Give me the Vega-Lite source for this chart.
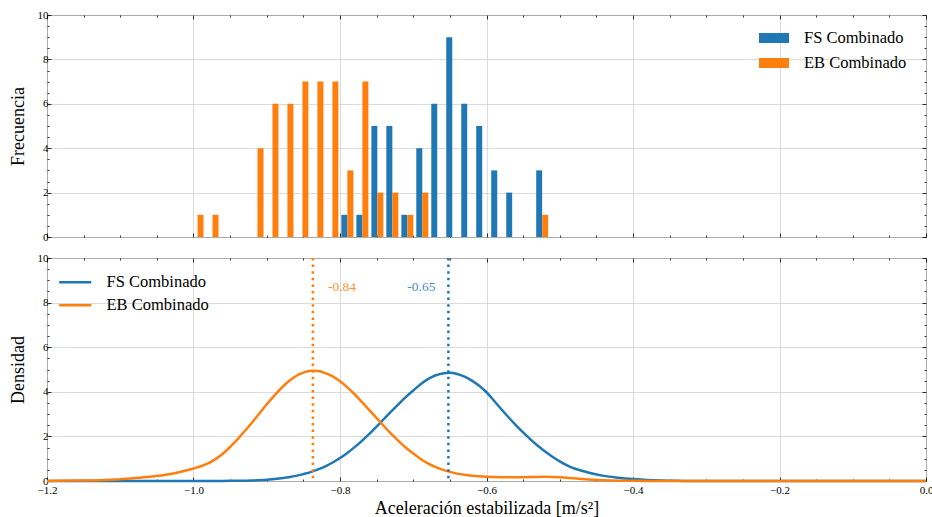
{
  "$schema": "https://vega.github.io/schema/vega-lite/v6.json",
  "padding": {"left": 8, "top": 8, "right": 0, "bottom": 0},
  "datasets": {
    "hist": [
      {"serie": "FS Combinado", "inicio": -0.8002, "fin": -0.7797, "conteo": 1},
      {"serie": "FS Combinado", "inicio": -0.7797, "fin": -0.7592, "conteo": 1},
      {"serie": "FS Combinado", "inicio": -0.7592, "fin": -0.7388, "conteo": 5},
      {"serie": "FS Combinado", "inicio": -0.7388, "fin": -0.7183, "conteo": 5},
      {"serie": "FS Combinado", "inicio": -0.7183, "fin": -0.6979, "conteo": 1},
      {"serie": "FS Combinado", "inicio": -0.6979, "fin": -0.6774, "conteo": 4},
      {"serie": "FS Combinado", "inicio": -0.6774, "fin": -0.6570, "conteo": 6},
      {"serie": "FS Combinado", "inicio": -0.6570, "fin": -0.6365, "conteo": 9},
      {"serie": "FS Combinado", "inicio": -0.6365, "fin": -0.6161, "conteo": 6},
      {"serie": "FS Combinado", "inicio": -0.6161, "fin": -0.5956, "conteo": 5},
      {"serie": "FS Combinado", "inicio": -0.5956, "fin": -0.5751, "conteo": 3},
      {"serie": "FS Combinado", "inicio": -0.5751, "fin": -0.5547, "conteo": 2},
      {"serie": "FS Combinado", "inicio": -0.5342, "fin": -0.5138, "conteo": 3},
      {"serie": "EB Combinado", "inicio": -1.0047, "fin": -0.9843, "conteo": 1},
      {"serie": "EB Combinado", "inicio": -0.9843, "fin": -0.9638, "conteo": 1},
      {"serie": "EB Combinado", "inicio": -0.9229, "fin": -0.9024, "conteo": 4},
      {"serie": "EB Combinado", "inicio": -0.9024, "fin": -0.8820, "conteo": 6},
      {"serie": "EB Combinado", "inicio": -0.8820, "fin": -0.8615, "conteo": 6},
      {"serie": "EB Combinado", "inicio": -0.8615, "fin": -0.8411, "conteo": 7},
      {"serie": "EB Combinado", "inicio": -0.8411, "fin": -0.8206, "conteo": 7},
      {"serie": "EB Combinado", "inicio": -0.8206, "fin": -0.8002, "conteo": 7},
      {"serie": "EB Combinado", "inicio": -0.8002, "fin": -0.7797, "conteo": 3},
      {"serie": "EB Combinado", "inicio": -0.7797, "fin": -0.7592, "conteo": 7},
      {"serie": "EB Combinado", "inicio": -0.7592, "fin": -0.7388, "conteo": 2},
      {"serie": "EB Combinado", "inicio": -0.7388, "fin": -0.7183, "conteo": 2},
      {"serie": "EB Combinado", "inicio": -0.7183, "fin": -0.6979, "conteo": 1},
      {"serie": "EB Combinado", "inicio": -0.6979, "fin": -0.6774, "conteo": 2},
      {"serie": "EB Combinado", "inicio": -0.5342, "fin": -0.5138, "conteo": 1}
    ],
    "dens": [
      {"serie": "FS Combinado", "a": -1.2, "d": 0},
      {"serie": "FS Combinado", "a": -1.1, "d": 0},
      {"serie": "FS Combinado", "a": -1.0, "d": 0.001},
      {"serie": "FS Combinado", "a": -0.96, "d": 0.004},
      {"serie": "FS Combinado", "a": -0.94, "d": 0.01},
      {"serie": "FS Combinado", "a": -0.92, "d": 0.025},
      {"serie": "FS Combinado", "a": -0.9, "d": 0.055},
      {"serie": "FS Combinado", "a": -0.88, "d": 0.12},
      {"serie": "FS Combinado", "a": -0.87, "d": 0.17},
      {"serie": "FS Combinado", "a": -0.86, "d": 0.23},
      {"serie": "FS Combinado", "a": -0.85, "d": 0.31},
      {"serie": "FS Combinado", "a": -0.84, "d": 0.4},
      {"serie": "FS Combinado", "a": -0.83, "d": 0.52},
      {"serie": "FS Combinado", "a": -0.82, "d": 0.66},
      {"serie": "FS Combinado", "a": -0.81, "d": 0.83},
      {"serie": "FS Combinado", "a": -0.8, "d": 1.03},
      {"serie": "FS Combinado", "a": -0.79, "d": 1.26},
      {"serie": "FS Combinado", "a": -0.78, "d": 1.52},
      {"serie": "FS Combinado", "a": -0.77, "d": 1.8},
      {"serie": "FS Combinado", "a": -0.76, "d": 2.11},
      {"serie": "FS Combinado", "a": -0.75, "d": 2.44},
      {"serie": "FS Combinado", "a": -0.74, "d": 2.78},
      {"serie": "FS Combinado", "a": -0.73, "d": 3.12},
      {"serie": "FS Combinado", "a": -0.72, "d": 3.45},
      {"serie": "FS Combinado", "a": -0.71, "d": 3.77},
      {"serie": "FS Combinado", "a": -0.7, "d": 4.06},
      {"serie": "FS Combinado", "a": -0.69, "d": 4.34},
      {"serie": "FS Combinado", "a": -0.68, "d": 4.57},
      {"serie": "FS Combinado", "a": -0.67, "d": 4.73},
      {"serie": "FS Combinado", "a": -0.66, "d": 4.82},
      {"serie": "FS Combinado", "a": -0.65, "d": 4.85},
      {"serie": "FS Combinado", "a": -0.64, "d": 4.8},
      {"serie": "FS Combinado", "a": -0.63, "d": 4.68},
      {"serie": "FS Combinado", "a": -0.62, "d": 4.5},
      {"serie": "FS Combinado", "a": -0.61, "d": 4.27},
      {"serie": "FS Combinado", "a": -0.6, "d": 3.98},
      {"serie": "FS Combinado", "a": -0.59, "d": 3.61},
      {"serie": "FS Combinado", "a": -0.58, "d": 3.23},
      {"serie": "FS Combinado", "a": -0.57, "d": 2.86},
      {"serie": "FS Combinado", "a": -0.56, "d": 2.51},
      {"serie": "FS Combinado", "a": -0.55, "d": 2.18},
      {"serie": "FS Combinado", "a": -0.54, "d": 1.87},
      {"serie": "FS Combinado", "a": -0.53, "d": 1.58},
      {"serie": "FS Combinado", "a": -0.52, "d": 1.32},
      {"serie": "FS Combinado", "a": -0.51, "d": 1.09},
      {"serie": "FS Combinado", "a": -0.5, "d": 0.88},
      {"serie": "FS Combinado", "a": -0.49, "d": 0.7},
      {"serie": "FS Combinado", "a": -0.48, "d": 0.56},
      {"serie": "FS Combinado", "a": -0.47, "d": 0.46},
      {"serie": "FS Combinado", "a": -0.46, "d": 0.37},
      {"serie": "FS Combinado", "a": -0.44, "d": 0.23},
      {"serie": "FS Combinado", "a": -0.42, "d": 0.15},
      {"serie": "FS Combinado", "a": -0.4, "d": 0.09},
      {"serie": "FS Combinado", "a": -0.38, "d": 0.045},
      {"serie": "FS Combinado", "a": -0.36, "d": 0.02},
      {"serie": "FS Combinado", "a": -0.34, "d": 0.008},
      {"serie": "FS Combinado", "a": -0.32, "d": 0.003},
      {"serie": "FS Combinado", "a": -0.3, "d": 0.001},
      {"serie": "FS Combinado", "a": -0.2, "d": 0},
      {"serie": "FS Combinado", "a": 0.0, "d": 0},
      {"serie": "EB Combinado", "a": -1.2, "d": 0.005},
      {"serie": "EB Combinado", "a": -1.16, "d": 0.02},
      {"serie": "EB Combinado", "a": -1.12, "d": 0.05},
      {"serie": "EB Combinado", "a": -1.1, "d": 0.08},
      {"serie": "EB Combinado", "a": -1.08, "d": 0.13},
      {"serie": "EB Combinado", "a": -1.06, "d": 0.19},
      {"serie": "EB Combinado", "a": -1.04, "d": 0.27},
      {"serie": "EB Combinado", "a": -1.02, "d": 0.39},
      {"serie": "EB Combinado", "a": -1.0, "d": 0.56},
      {"serie": "EB Combinado", "a": -0.99, "d": 0.66},
      {"serie": "EB Combinado", "a": -0.98, "d": 0.79},
      {"serie": "EB Combinado", "a": -0.97, "d": 0.98},
      {"serie": "EB Combinado", "a": -0.96, "d": 1.22},
      {"serie": "EB Combinado", "a": -0.95, "d": 1.53},
      {"serie": "EB Combinado", "a": -0.94, "d": 1.87},
      {"serie": "EB Combinado", "a": -0.93, "d": 2.24},
      {"serie": "EB Combinado", "a": -0.92, "d": 2.63},
      {"serie": "EB Combinado", "a": -0.91, "d": 3.03},
      {"serie": "EB Combinado", "a": -0.9, "d": 3.44},
      {"serie": "EB Combinado", "a": -0.89, "d": 3.82},
      {"serie": "EB Combinado", "a": -0.88, "d": 4.17},
      {"serie": "EB Combinado", "a": -0.87, "d": 4.47},
      {"serie": "EB Combinado", "a": -0.86, "d": 4.71},
      {"serie": "EB Combinado", "a": -0.85, "d": 4.86},
      {"serie": "EB Combinado", "a": -0.84, "d": 4.94},
      {"serie": "EB Combinado", "a": -0.83, "d": 4.93},
      {"serie": "EB Combinado", "a": -0.82, "d": 4.84},
      {"serie": "EB Combinado", "a": -0.81, "d": 4.69},
      {"serie": "EB Combinado", "a": -0.8, "d": 4.47},
      {"serie": "EB Combinado", "a": -0.79, "d": 4.2},
      {"serie": "EB Combinado", "a": -0.78, "d": 3.89},
      {"serie": "EB Combinado", "a": -0.77, "d": 3.54},
      {"serie": "EB Combinado", "a": -0.76, "d": 3.18},
      {"serie": "EB Combinado", "a": -0.75, "d": 2.82},
      {"serie": "EB Combinado", "a": -0.74, "d": 2.46},
      {"serie": "EB Combinado", "a": -0.73, "d": 2.11},
      {"serie": "EB Combinado", "a": -0.72, "d": 1.79},
      {"serie": "EB Combinado", "a": -0.71, "d": 1.49},
      {"serie": "EB Combinado", "a": -0.7, "d": 1.23},
      {"serie": "EB Combinado", "a": -0.69, "d": 0.99},
      {"serie": "EB Combinado", "a": -0.68, "d": 0.79},
      {"serie": "EB Combinado", "a": -0.67, "d": 0.63},
      {"serie": "EB Combinado", "a": -0.66, "d": 0.51},
      {"serie": "EB Combinado", "a": -0.65, "d": 0.41},
      {"serie": "EB Combinado", "a": -0.64, "d": 0.33},
      {"serie": "EB Combinado", "a": -0.63, "d": 0.28},
      {"serie": "EB Combinado", "a": -0.62, "d": 0.24},
      {"serie": "EB Combinado", "a": -0.61, "d": 0.21},
      {"serie": "EB Combinado", "a": -0.6, "d": 0.19},
      {"serie": "EB Combinado", "a": -0.58, "d": 0.17},
      {"serie": "EB Combinado", "a": -0.56, "d": 0.165},
      {"serie": "EB Combinado", "a": -0.54, "d": 0.18},
      {"serie": "EB Combinado", "a": -0.52, "d": 0.19},
      {"serie": "EB Combinado", "a": -0.5, "d": 0.17},
      {"serie": "EB Combinado", "a": -0.48, "d": 0.12},
      {"serie": "EB Combinado", "a": -0.46, "d": 0.07},
      {"serie": "EB Combinado", "a": -0.44, "d": 0.035},
      {"serie": "EB Combinado", "a": -0.42, "d": 0.015},
      {"serie": "EB Combinado", "a": -0.4, "d": 0.006},
      {"serie": "EB Combinado", "a": -0.36, "d": 0.001},
      {"serie": "EB Combinado", "a": -0.3, "d": 0},
      {"serie": "EB Combinado", "a": 0.0, "d": 0}
    ],
    "medias": [
      {"serie": "FS Combinado", "media": -0.652, "etiqueta": "-0.65"},
      {"serie": "EB Combinado", "media": -0.837, "etiqueta": "-0.84"}
    ]
  },
  "spacing": 8,
  "resolve": {"scale": {"color": "independent"}, "legend": {"color": "independent"}},
  "vconcat": [
    {
      "width": 879,
      "height": 222,
      "data": {"name": "hist"},
      "layer": [
        {
          "transform": [{"filter": "datum.serie == 'FS Combinado'"}],
          "mark": {"type": "bar", "xOffset": 1.5, "x2Offset": -7.5},
          "encoding": {
            "x": {"field": "inicio", "type": "quantitative",
              "scale": {"domain": [-1.2, 0], "nice": false, "zero": false},
              "axis": {"orient": "bottom", "values": [-1.2,-1.15,-1.1,-1.05,-1,-0.95,-0.9,-0.85,-0.8,-0.75,-0.7,-0.65,-0.6,-0.55,-0.5,-0.45,-0.4,-0.35,-0.3,-0.25,-0.2,-0.15,-0.1,-0.05,0],
                "labels": false, "title": null,
                "tickSize": {"condition": {"test": "abs(datum.value*5-round(datum.value*5))<0.001", "value": -4}, "value": -2},
                "gridOpacity": {"condition": {"test": "abs(datum.value*5-round(datum.value*5))<0.001", "value": 1}, "value": 0}}},
            "x2": {"field": "fin"},
            "y": {"field": "conteo", "type": "quantitative",
              "scale": {"domain": [0, 10], "nice": false},
              "axis": {"orient": "left", "values": [0,0.5,1,1.5,2,2.5,3,3.5,4,4.5,5,5.5,6,6.5,7,7.5,8,8.5,9,9.5,10],
                "labelExpr": "datum.value % 2 == 0 ? format(datum.value, 'd') : ''",
                "labelOverlap": false, "labelFlush": false, "labelPadding": 3,
                "title": "Frecuencia", "titleFontSize": 18, "titlePadding": 10,
                "tickSize": {"condition": {"test": "datum.value % 2 == 0", "value": -4}, "value": -2},
                "gridOpacity": {"condition": {"test": "datum.value % 2 == 0", "value": 1}, "value": 0}}},
            "y2": {"datum": 0},
            "color": {"field": "serie", "type": "nominal",
              "scale": {"domain": ["FS Combinado", "EB Combinado"], "range": ["#1f77b4", "#ff7f0e"]},
              "legend": {"orient": "none", "legendX": 717, "legendY": 13, "title": null, "padding": 0,
                "symbolType": "M-1.5,-0.5H1.5V0.5H-1.5Z", "symbolSize": 400, "symbolStrokeWidth": 0,
                "labelFontSize": 16.5, "labelOffset": 20, "rowPadding": 6, "labelFont": "Liberation Serif", "labelColor": "#000"}}
          }
        },
        {
          "transform": [{"filter": "datum.serie == 'EB Combinado'"}],
          "mark": {"type": "bar", "xOffset": 7.5, "x2Offset": -1.5},
          "encoding": {
            "x": {"field": "inicio", "type": "quantitative",
              "scale": {"domain": [-1.2, 0], "nice": false, "zero": false},
              "axis": {"orient": "top", "values": [-1.2,-1.15,-1.1,-1.05,-1,-0.95,-0.9,-0.85,-0.8,-0.75,-0.7,-0.65,-0.6,-0.55,-0.5,-0.45,-0.4,-0.35,-0.3,-0.25,-0.2,-0.15,-0.1,-0.05,0],
                "labels": false, "title": null, "grid": false,
                "tickSize": {"condition": {"test": "abs(datum.value*5-round(datum.value*5))<0.001", "value": -4}, "value": -2}}},
            "x2": {"field": "fin"},
            "y": {"field": "conteo", "type": "quantitative",
              "scale": {"domain": [0, 10], "nice": false},
              "axis": {"orient": "right", "values": [0,0.5,1,1.5,2,2.5,3,3.5,4,4.5,5,5.5,6,6.5,7,7.5,8,8.5,9,9.5,10],
                "labels": false, "title": null, "grid": false,
                "tickSize": {"condition": {"test": "datum.value % 2 == 0", "value": -4}, "value": -2}}},
            "y2": {"datum": 0},
            "color": {"field": "serie", "type": "nominal",
              "scale": {"domain": ["FS Combinado", "EB Combinado"], "range": ["#1f77b4", "#ff7f0e"]}}
          }
        }
      ],
      "resolve": {"axis": {"x": "independent", "y": "independent"}}
    },
    {
      "width": 879,
      "height": 223,
      "layer": [
        {
          "data": {"name": "dens"},
          "mark": {"type": "line", "strokeWidth": 2.5, "interpolate": "monotone"},
          "encoding": {
            "x": {"field": "a", "type": "quantitative",
              "scale": {"domain": [-1.2, 0], "nice": false, "zero": false},
              "axis": {"orient": "bottom", "values": [-1.2,-1.15,-1.1,-1.05,-1,-0.95,-0.9,-0.85,-0.8,-0.75,-0.7,-0.65,-0.6,-0.55,-0.5,-0.45,-0.4,-0.35,-0.3,-0.25,-0.2,-0.15,-0.1,-0.05,0],
                "labelExpr": "abs(datum.value*5-round(datum.value*5))<0.001 ? format(datum.value, '.1f') : ''",
                "labelOverlap": false, "labelFlush": false, "labelPadding": 7,
                "title": "Aceleración estabilizada [m/s²]", "titleFontSize": 18, "titlePadding": 2,
                "tickSize": {"condition": {"test": "abs(datum.value*5-round(datum.value*5))<0.001", "value": -4}, "value": -2},
                "gridOpacity": {"condition": {"test": "abs(datum.value*5-round(datum.value*5))<0.001", "value": 1}, "value": 0}}},
            "y": {"field": "d", "type": "quantitative",
              "scale": {"domain": [0, 10], "nice": false},
              "axis": {"orient": "left", "values": [0,0.5,1,1.5,2,2.5,3,3.5,4,4.5,5,5.5,6,6.5,7,7.5,8,8.5,9,9.5,10],
                "labelExpr": "datum.value % 2 == 0 ? format(datum.value, 'd') : ''",
                "labelOverlap": false, "labelFlush": false, "labelPadding": 3,
                "title": "Densidad", "titleFontSize": 18, "titlePadding": 10,
                "tickSize": {"condition": {"test": "datum.value % 2 == 0", "value": -4}, "value": -2},
                "gridOpacity": {"condition": {"test": "datum.value % 2 == 0", "value": 1}, "value": 0}}},
            "color": {"field": "serie", "type": "nominal",
              "scale": {"domain": ["FS Combinado", "EB Combinado"], "range": ["#1f77b4", "#ff7f0e"]},
              "legend": {"orient": "none", "legendX": 20, "legendY": 16, "title": null, "padding": 0,
                "symbolType": "M-3,0H3", "symbolSize": 114, "symbolStrokeWidth": 2.5,
                "labelFontSize": 16.5, "labelOffset": 23, "rowPadding": 6, "labelFont": "Liberation Serif", "labelColor": "#000"}}
          }
        },
        {
          "data": {"name": "medias"},
          "transform": [{"filter": "datum.serie == 'EB Combinado'"}],
          "mark": {"type": "rule", "color": "#ff7f0e", "strokeWidth": 2.5, "strokeDash": [2.5, 4.1], "strokeCap": "butt"},
          "encoding": {
            "x": {"field": "media", "type": "quantitative",
              "axis": {"orient": "top", "values": [-1.2,-1.15,-1.1,-1.05,-1,-0.95,-0.9,-0.85,-0.8,-0.75,-0.7,-0.65,-0.6,-0.55,-0.5,-0.45,-0.4,-0.35,-0.3,-0.25,-0.2,-0.15,-0.1,-0.05,0],
                "labels": false, "title": null, "grid": false,
                "tickSize": {"condition": {"test": "abs(datum.value*5-round(datum.value*5))<0.001", "value": -4}, "value": -2}}}
          }
        },
        {
          "data": {"name": "medias"},
          "transform": [{"filter": "datum.serie == 'FS Combinado'"}],
          "mark": {"type": "rule", "color": "#1f77b4", "strokeWidth": 2.5, "strokeDash": [2.5, 4.1], "strokeCap": "butt"},
          "encoding": {
            "x": {"field": "media", "type": "quantitative", "axis": null}
          }
        },
        {
          "data": {"name": "medias"},
          "transform": [{"filter": "datum.serie == 'EB Combinado'"}],
          "mark": {"type": "text", "align": "left", "baseline": "middle", "dx": 15, "fontSize": 13.5, "color": "#ff7f0e", "opacity": 0.85, "font": "Liberation Serif"},
          "encoding": {
            "x": {"field": "media", "type": "quantitative", "axis": null},
            "y": {"datum": 8.7, "type": "quantitative",
              "axis": {"orient": "right", "values": [0,0.5,1,1.5,2,2.5,3,3.5,4,4.5,5,5.5,6,6.5,7,7.5,8,8.5,9,9.5,10],
                "labels": false, "title": null, "grid": false,
                "tickSize": {"condition": {"test": "datum.value % 2 == 0", "value": -4}, "value": -2}}},
            "text": {"field": "etiqueta"}
          }
        },
        {
          "data": {"name": "medias"},
          "transform": [{"filter": "datum.serie == 'FS Combinado'"}],
          "mark": {"type": "text", "align": "right", "baseline": "middle", "dx": -13, "fontSize": 13.5, "color": "#1f77b4", "opacity": 0.85, "font": "Liberation Serif"},
          "encoding": {
            "x": {"field": "media", "type": "quantitative", "axis": null},
            "y": {"datum": 8.7, "type": "quantitative", "axis": null},
            "text": {"field": "etiqueta"}
          }
        }
      ],
      "resolve": {"axis": {"x": "independent", "y": "independent"}}
    }
  ],
  "config": {
    "font": "Liberation Serif",
    "view": {"stroke": "#1a1a1a", "strokeWidth": 1},
    "axis": {"domain": false, "labelFont": "Liberation Serif", "titleFont": "Liberation Serif", "labelFontSize": 11,
      "labelColor": "#000", "titleColor": "#000", "titleFontWeight": "normal", "tickColor": "#000", "tickWidth": 0.8,
      "gridColor": "#d2d2d2", "gridWidth": 0.8}
  }
}
